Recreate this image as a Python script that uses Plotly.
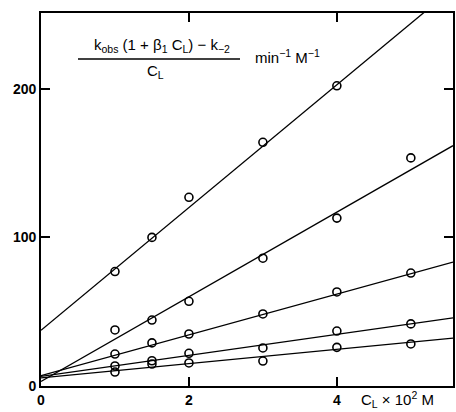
import plotly.graph_objects as go

# concentrations C_L x 10^2 M
x_vals = [1, 1.5, 2, 3, 4, 5]

s1 = [77, 100, 127, 164, 202, None]
s2 = [37.7, 44.4, 57, 86, 113, 153.5]
s3 = [21.5, 29, 35, 48.5, 63.3, 76]
s4 = [13.5, 17, 22, 25.6, 37, 41.8]
s5 = [9.4, 14.8, 15.5, 16.8, 26, 28.3]
series = [s1, s2, s3, s4, s5]

# fitted straight lines: intercepts and slopes
intercepts = [37.5, 3.0, 7.0, 6.5, 5.5]
slopes = [41.3, 28.5, 13.7, 7.06, 4.8]

x_max = 5.57
y_max = 251
x_ticks = [0, 2, 4]
y_ticks = [0, 100, 200]

FONT = "Liberation Sans"

fig = go.Figure()

for b, m in zip(intercepts, slopes):
    xs = [0, x_max]
    fig.add_trace(go.Scatter(x=xs, y=[b + m * xx for xx in xs], mode="lines",
                             line=dict(color="black", width=1.3),
                             showlegend=False, hoverinfo="skip"))

for s in series:
    xs = [xx for xx, yy in zip(x_vals, s) if yy is not None]
    ys = [yy for yy in s if yy is not None]
    fig.add_trace(go.Scatter(x=xs, y=ys, mode="markers",
                             marker=dict(symbol="circle-open", size=8, color="black",
                                         line=dict(width=1.6, color="black")),
                             showlegend=False, cliponaxis=False))

tick_font = dict(family=FONT, size=14, color="black", weight="bold")

fig.update_layout(
    width=456, height=412,
    margin=dict(l=41, r=3, t=13, b=26),
    paper_bgcolor="white", plot_bgcolor="white",
    font=dict(family=FONT, color="black", size=14),
    xaxis=dict(range=[0, x_max], tickvals=x_ticks, ticktext=[str(t) for t in x_ticks],
               showgrid=False, zeroline=False, showline=True, linecolor="black",
               linewidth=1.8, mirror="ticks", ticks="inside", ticklen=9, tickwidth=1.5,
               tickcolor="black", tickfont=tick_font, automargin=False),
    yaxis=dict(range=[0, y_max], tickvals=y_ticks, ticktext=[str(t) for t in y_ticks],
               showgrid=False, zeroline=False, showline=True, linecolor="black",
               linewidth=1.8, mirror="ticks", ticks="inside", ticklen=9, tickwidth=1.5,
               tickcolor="black", tickfont=tick_font, automargin=False),
)

LBL = dict(family=FONT, size=15, color="black")

# formula label (fraction)
fig.add_annotation(xref="paper", yref="paper", x=(162 - 41) / 412, y=(386 - 46) / 373,
                   text="k<sub>obs</sub> (1 + β<sub>1</sub> C<sub>L</sub>) − k<sub>−2</sub>",
                   showarrow=False, font=LBL, xanchor="center", yanchor="middle")
fig.add_shape(type="line", xref="paper", yref="paper",
              x0=(78 - 41) / 412, x1=(240 - 41) / 412,
              y0=(386 - 59) / 373, y1=(386 - 59) / 373,
              line=dict(color="black", width=1.3))
fig.add_annotation(xref="paper", yref="paper", x=(155 - 41) / 412, y=(386 - 71) / 373,
                   text="C<sub>L</sub>", showarrow=False, font=LBL,
                   xanchor="center", yanchor="middle")
fig.add_annotation(xref="paper", yref="paper", x=(253 - 41) / 412, y=(386 - 57) / 373,
                   text="min<sup>−1</sup> M<sup>−1</sup>", showarrow=False, font=LBL,
                   xanchor="left", yanchor="middle")
# x axis label
fig.add_annotation(xref="paper", yref="paper", x=(359 - 41) / 412, y=-(399 - 386) / 373,
                   text="C<sub>L</sub> × 10<sup>2</sup> M", showarrow=False, font=LBL,
                   xanchor="left", yanchor="middle")

fig.write_html("out.html", config={"displayModeBar": False},
               post_script="document.body.style.margin='0';document.body.style.overflow='hidden';")
